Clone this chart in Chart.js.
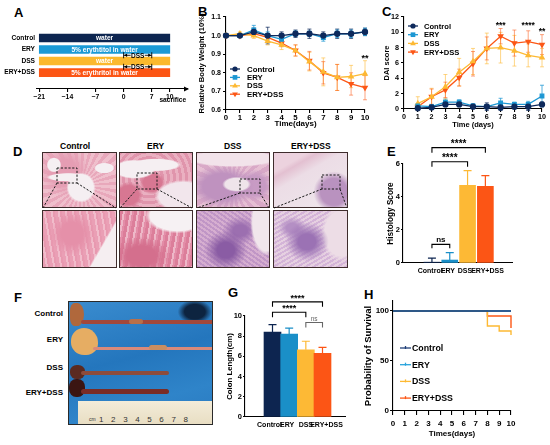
<!DOCTYPE html>
<html>
<head>
<meta charset="utf-8">
<script src="https://cdn.jsdelivr.net/npm/chart.js@4.4.1/dist/chart.umd.min.js"></script>
<style>
  body { margin: 0; background: #fff; font-family: 'Liberation Sans', Arial, sans-serif; }
  #fig { position: relative; width: 550px; height: 445px; overflow: hidden; background: #fff; }
  .box { position: absolute; }
  .letter { position: absolute; font-weight: bold; font-size: 13px; line-height: 1; }
  .txt { position: absolute; font-weight: bold; font-size: 8px; line-height: 1; white-space: nowrap; }
  .img { position: absolute; box-sizing: border-box; border: 1.3px solid #3e2c2c; }
  .photo { position: absolute; overflow: hidden; }
  .seg { position: absolute; }
</style>
</head>
<body>
<div id="fig">
  <div class="letter" style="left:14px;top:6px">A</div>
  <div class="letter" style="left:198px;top:5px">B</div>
  <div class="letter" style="left:382px;top:5px">C</div>
  <div class="letter" style="left:13px;top:145px">D</div>
  <div class="letter" style="left:387px;top:145px">E</div>
  <div class="letter" style="left:14px;top:291px">F</div>
  <div class="letter" style="left:228px;top:286px">G</div>
  <div class="letter" style="left:364px;top:288px">H</div>

  <!-- D: histology -->
  <div class="txt" style="left:60px;top:142px;font-size:8.5px">Control</div>
  <div class="txt" style="left:147px;top:142px;font-size:8.5px">ERY</div>
  <div class="txt" style="left:224px;top:142px;font-size:8.5px">DSS</div>
  <div class="txt" style="left:291px;top:142px;font-size:8.5px">ERY+DSS</div>

  <div class="img" style="left:42px;top:152px;width:75px;height:56px;background:
    radial-gradient(ellipse 20% 28% at 52% 64%, #f5eff2 0 85%, transparent 100%),
    radial-gradient(ellipse 30% 8% at 35% 45%, #f5eff2 0 85%, transparent 100%),
    radial-gradient(ellipse 10% 14% at 15% 22%, #f5eff2 0 85%, transparent 100%),
    radial-gradient(ellipse 14% 10% at 84% 28%, #f5eff2 0 85%, transparent 100%),
    radial-gradient(circle at 30% 35%, #e59db3 0 20%, transparent 40%),
    repeating-conic-gradient(from 0deg at 52% 60%, #e8a8bb 0 6deg, #efbfcc 6deg 12deg), #eab0c1"></div>
  <div class="img" style="left:119px;top:152px;width:74px;height:56px;background:
    radial-gradient(ellipse 30% 18% at 20% 30%, #f5eff2 0 85%, transparent 100%),
    radial-gradient(ellipse 35% 12% at 50% 22%, #f5eff2 0 85%, transparent 100%),
    radial-gradient(ellipse 40% 30% at 88% 80%, #f2e6ec 0 85%, transparent 100%),
    radial-gradient(ellipse 20% 25% at 12% 78%, #d77792 0 70%, transparent 100%),
    radial-gradient(ellipse 18% 22% at 45% 55%, #d77792 0 70%, transparent 100%),
    repeating-radial-gradient(circle at 40% 45%, #e095ac 0 3px, #eab0c1 3px 6px), #e4a0b5"></div>
  <div class="img" style="left:196px;top:152px;width:74px;height:56px;background:
    radial-gradient(ellipse 65% 16% at 50% 10%, #f2e3ea 0 85%, transparent 100%),
    radial-gradient(ellipse 20% 14% at 55% 58%, #efe4ea 0 80%, transparent 100%),
    radial-gradient(ellipse 45% 40% at 35% 62%, #bf92bf 0 60%, transparent 100%),
    radial-gradient(ellipse 25% 30% at 80% 60%, #c89bc4 0 60%, transparent 100%),
    repeating-conic-gradient(from 0deg at 50% 60%, #d9a9c7 0 8deg, #e6bfd3 8deg 15deg), #dcb0cb"></div>
  <div class="img" style="left:273px;top:152px;width:75px;height:56px;background:
    radial-gradient(ellipse 28% 38% at 82% 72%, #b992bf 0 65%, transparent 100%),
    linear-gradient(150deg, #ecd2de 0 20%, #e3c0d1 26%, #ecdde6 40%, #efe7ec 100%)"></div>

  <div class="img" style="left:42px;top:210px;width:75px;height:58px;background:
    linear-gradient(120deg, transparent 0 74%, #f5eef1 76% 100%),
    radial-gradient(ellipse 30% 40% at 40% 40%, #e590a9 0 50%, transparent 100%),
    repeating-linear-gradient(80deg, #ea9fb5 0 3px, #f1bccb 3px 5px, #e899b0 5px 7px), #eaa6ba"></div>
  <div class="img" style="left:119px;top:210px;width:74px;height:58px;background:
    radial-gradient(ellipse 45% 32% at 80% 8%, #f6f1f3 0 85%, transparent 100%),
    radial-gradient(ellipse 40% 35% at 30% 80%, #d46f8d 0 50%, transparent 100%),
    repeating-linear-gradient(100deg, #dc7e9a 0 3px, #eeb8c8 3px 5px, #e38ea8 5px 7px), #e08ea7"></div>
  <div class="img" style="left:196px;top:210px;width:74px;height:58px;background:
    radial-gradient(ellipse 22% 60% at 96% 20%, #f1e6ec 0 85%, transparent 100%),
    radial-gradient(ellipse 30% 35% at 40% 70%, #8a5ca4 0 40%, transparent 100%),
    radial-gradient(ellipse 25% 25% at 60% 35%, #9c6fb0 0 40%, transparent 100%),
    repeating-linear-gradient(35deg, #c096c6 0 2px, #d6aed0 2px 4px),
    #c79bc6"></div>
  <div class="img" style="left:273px;top:210px;width:75px;height:58px;background:
    radial-gradient(ellipse 30% 35% at 45% 55%, #9b72b4 0 40%, transparent 100%),
    radial-gradient(ellipse 20% 20% at 25% 30%, #b48fc4 0 40%, transparent 100%),
    radial-gradient(ellipse 28% 50% at 92% 40%, #eddde6 0 80%, transparent 100%),
    repeating-linear-gradient(-30deg, #d4b4d8 0 2px, #e6d0e1 2px 4px),
    #dcc0da"></div>

  <svg class="box" style="left:0;top:0" width="550" height="445">
    <g fill="none" stroke="#1a1a1a" stroke-width="1" stroke-dasharray="2.2,1.6">
      <rect x="57" y="168" width="20" height="15"/>
      <line x1="57" y1="183" x2="43" y2="208"/><line x1="77" y1="183" x2="116" y2="208"/>
      <rect x="137" y="173" width="20" height="16"/>
      <line x1="137" y1="189" x2="120" y2="208"/><line x1="157" y1="189" x2="192" y2="208"/>
      <rect x="240" y="179" width="20" height="14"/>
      <line x1="240" y1="193" x2="197" y2="208"/><line x1="260" y1="193" x2="269" y2="208"/>
      <rect x="322" y="175" width="18" height="14"/>
      <line x1="322" y1="189" x2="274" y2="208"/><line x1="340" y1="189" x2="347" y2="208"/>
    </g>
  </svg>

  <!-- F: colon photo -->
  <div class="txt" style="right:487px;top:310px">Control</div>
  <div class="txt" style="right:487px;top:336px">ERY</div>
  <div class="txt" style="right:487px;top:364px">DSS</div>
  <div class="txt" style="right:487px;top:389px">ERY+DSS</div>
  <div class="photo" style="left:68px;top:301px;width:145px;height:124px;border:1px solid #2a2a2a;box-sizing:border-box;background:
    radial-gradient(ellipse 12% 10% at 88% 8%, #0d2440 0 60%, transparent 100%),
    linear-gradient(165deg, #3a8ccf 0%, #2476bd 45%, #2f84c9 75%, #2a7ac0 100%)">
    <div class="seg" style="left:1px;top:1px;width:14px;height:23px;border-radius:40% 60% 60% 40%;background:#b0683c"></div>
    <div class="seg" style="left:12px;top:18px;width:134px;height:4px;border-radius:2px;background:#a2483a"></div>
    <div class="seg" style="left:60px;top:17px;width:14px;height:5px;border-radius:3px;background:#b8704a"></div>
    <div class="seg" style="left:2px;top:26px;width:27px;height:27px;border-radius:50% 55% 45% 50%;background:#e6ad63"></div>
    <div class="seg" style="left:24px;top:45px;width:122px;height:3px;border-radius:2px;background:#d98a7a"></div>
    <div class="seg" style="left:80px;top:43px;width:18px;height:5px;border-radius:3px;background:#c98e60"></div>
    <div class="seg" style="left:1px;top:63px;width:15px;height:14px;border-radius:45%;background:#5b2a20"></div>
    <div class="seg" style="left:12px;top:69px;width:88px;height:4px;border-radius:2px;background:#8d4c3c"></div>
    <div class="seg" style="left:0px;top:77px;width:16px;height:18px;border-radius:45%;background:#3b1512"></div>
    <div class="seg" style="left:12px;top:87px;width:88px;height:5px;border-radius:3px;background:#7a2c26"></div>
    <div class="seg" style="left:9px;top:99px;width:140px;height:26px;background:linear-gradient(#f3ecd9,#e7dcc0)"></div>
    <div class="txt" style="left:20px;top:115px;font-weight:normal;font-size:5px;color:#333">cm</div>
    <div class="txt" style="left:30px;top:114px;font-weight:normal;font-size:8px;color:#333;word-spacing:5.4px">1 2 3 4 5 6 7 8</div>
  </div>
</div>

<script>
// ---- data ----
const groups = ['Control', 'ERY', 'DSS', 'ERY+DSS'];
const colors = ['#0e2a5c', '#1c97d3', '#fdb933', '#fc5716'];
const errColors = ['rgba(14,42,92,0.75)', 'rgba(28,151,211,0.75)', 'rgba(253,185,51,0.6)', 'rgba(252,87,22,0.55)'];

// A: treatment schedule (days)
const schedStart = [-21, -21, -21, -21];
const schedEnd = [10, 10, 10, 10];
const schedText = ['water', '5% erythtitol in water', 'water', '5% erythritol in water'];
const schedTicks = [-21, -14, -7, 0, 7, 10];
const dssWindow = [0, 7];

// B: relative body weight
const bwDays = [0, 1, 2, 3, 4, 5, 6, 7, 8, 9, 10];
const bwControl = [1.00, 1.00, 1.02, 1.00, 1.00, 1.01, 1.01, 1.00, 1.01, 1.01, 1.02];
const bwControlSd = [0.005, 0.01, 0.02, 0.045, 0.02, 0.02, 0.025, 0.02, 0.025, 0.025, 0.02];
const bwEry = [1.00, 1.00, 1.03, 1.00, 0.98, 1.01, 1.01, 0.99, 1.01, 1.01, 1.02];
const bwErySd = [0.005, 0.01, 0.025, 0.02, 0.02, 0.015, 0.015, 0.02, 0.02, 0.02, 0.02];
const bwDss = [1.00, 1.01, 1.00, 0.97, 0.95, 0.92, 0.86, 0.805, 0.775, 0.78, 0.795];
const bwDssSd = [0.005, 0.01, 0.015, 0.02, 0.025, 0.03, 0.05, 0.075, 0.07, 0.06, 0.07];
const bwEryDss = [1.00, 1.00, 1.01, 0.99, 0.96, 0.92, 0.865, 0.80, 0.775, 0.74, 0.72];
const bwEryDssSd = [0.005, 0.01, 0.015, 0.02, 0.02, 0.03, 0.05, 0.06, 0.07, 0.06, 0.065];

// C: DAI score
const daiDays = [1, 2, 3, 4, 5, 6, 7, 8, 9, 10];
const daiControl = [0.1, 0.2, 0.6, 0.6, 0.3, 0.3, 0.2, 0.3, 0.3, 0.6];
const daiControlSd = [0.1, 0.2, 0.3, 0.3, 0.2, 0.5, 0.4, 0.3, 0.5, 0.3];
const daiEry = [0.4, 0.3, 0.9, 0.9, 0.4, 0.3, 0.8, 0.6, 0.6, 1.7];
const daiErySd = [0.2, 0.3, 0.4, 0.3, 0.3, 0.2, 0.6, 0.3, 0.4, 1.4];
const daiDss = [0.7, 1.6, 2.9, 4.8, 6.2, 7.9, 8.0, 7.6, 7.0, 6.7];
const daiDssSd = [0.9, 1.1, 1.6, 1.8, 1.7, 2.0, 2.0, 2.0, 1.5, 1.2];
const daiEryDss = [0.3, 1.6, 2.5, 4.1, 5.9, 7.9, 9.5, 8.6, 8.8, 8.4];
const daiEryDssSd = [0.4, 1.0, 1.0, 1.1, 1.6, 1.5, 1.0, 1.7, 1.4, 1.3];

// E: histology score, G: colon length
const histScore = [0.05, 0.18, 4.7, 4.65];
const histSd = [0.25, 0.45, 0.9, 0.65];
const colonLen = [8.4, 8.2, 6.65, 6.3];
const colonSd = [0.75, 0.6, 0.85, 0.6];

// H: survival (%)
const survDays = [0, 1, 2, 3, 4, 5, 6, 7, 8, 9, 10];
const survControl = [100, 100, 100, 100, 100, 100, 100, 100, 100, 100, 100];
const survEry = [100, 100, 100, 100, 100, 100, 100, 100, 100, 100, 100];
const survDss = [100, 100, 100, 100, 100, 100, 100, 100, 85, 80, 76];
const survEryDss = [100, 100, 100, 100, 100, 100, 100, 100, 95, 95, 83];

// ---- setup ----
Chart.defaults.font.family = "'Liberation Sans', Arial, sans-serif";
Chart.defaults.font.weight = 'bold';
Chart.defaults.font.size = 7.5;
Chart.defaults.color = '#000';
Chart.defaults.animation = false;
Chart.defaults.plugins.legend.display = false;
Chart.defaults.plugins.tooltip.enabled = false;

// schematic time axis: the last 3 days are drawn 1.5x wider
class ScheduleScale extends Chart.LinearScale {
  getPixelForValue(value) {
    const w = v => v <= 7 ? v : 7 + (v - 7) * 1.5;
    const a = w(this.min), b = w(this.max);
    return this.getPixelForDecimal((w(value) - a) / (b - a));
  }
}
ScheduleScale.id = 'schedule';
ScheduleScale.defaults = Chart.LinearScale.defaults;
Chart.register(ScheduleScale);

function mount(box) {
  const d = document.createElement('div');
  d.className = 'box';
  d.style.cssText = `left:${box.x}px;top:${box.y}px;width:${box.w}px;height:${box.h}px`;
  const c = document.createElement('canvas');
  d.appendChild(c);
  document.getElementById('fig').appendChild(d);
  return c;
}

// fixes the plot rectangle at page coordinates
function fit(box, area) {
  return {
    padding: { left: 0, top: area.t - box.y, right: box.x + box.w - area.r, bottom: 0 },
    yW: area.l - box.x,
    xH: box.y + box.h - area.b
  };
}

function axis(size, o) {
  return Object.assign({
    afterFit: s => { if (s.isHorizontal()) s.height = size; else s.width = size; },
    grid: { drawOnChartArea: false, color: '#000', lineWidth: 1.1, tickLength: 3 },
    border: { color: '#000', width: 1.1 }
  }, o);
}

function title(text, size) {
  return { display: true, text: text, font: { size: size || 8, weight: 'bold' }, padding: { top: 2, bottom: 2 } };
}

function marker(ctx, style, x, y, r, color, rot) {
  ctx.fillStyle = color;
  ctx.beginPath();
  if (style === 'circle') ctx.arc(x, y, r, 0, Math.PI * 2);
  else if (style === 'rect') ctx.rect(x - r * 0.9, y - r * 0.9, r * 1.8, r * 1.8);
  else {
    const s = rot ? -1 : 1;
    ctx.moveTo(x, y - s * r * 1.2);
    ctx.lineTo(x + r * 1.1, y + s * r * 0.7);
    ctx.lineTo(x - r * 1.1, y + s * r * 0.7);
    ctx.closePath();
  }
  ctx.fill();
}

// error bars from dataset.errors
const errorBars = {
  id: 'errorBars',
  beforeDatasetsDraw(chart, args, opt) {
    const ctx = chart.ctx;
    chart.data.datasets.forEach((ds, di) => {
      if (!ds.errors) return;
      const meta = chart.getDatasetMeta(di);
      const ys = chart.scales[meta.yAxisID];
      ctx.save();
      ctx.lineWidth = opt.width || 1;
      meta.data.forEach((el, i) => {
        const raw = ds.data[i];
        const v = typeof raw === 'object' ? raw.y : raw;
        const e = ds.errors[i];
        const col = Array.isArray(ds.errorColor) ? ds.errorColor[i] : ds.errorColor;
        ctx.strokeStyle = col;
        const top = ys.getPixelForValue(v + e);
        const bot = opt.upperOnly ? el.y : ys.getPixelForValue(v - e);
        const cw = opt.cap || 2;
        ctx.beginPath();
        ctx.moveTo(el.x, bot); ctx.lineTo(el.x, top);
        ctx.moveTo(el.x - cw, top); ctx.lineTo(el.x + cw, top);
        if (!opt.upperOnly) { ctx.moveTo(el.x - cw, bot); ctx.lineTo(el.x + cw, bot); }
        ctx.stroke();
      });
      ctx.restore();
    });
  }
};

// legend placed inside the plot
const innerLegend = {
  id: 'innerLegend',
  afterDraw(chart, args, opt) {
    if (!opt.dx) return;
    const { ctx, chartArea } = chart;
    ctx.save();
    ctx.font = `bold ${opt.size}px 'Liberation Sans', Arial, sans-serif`;
    ctx.textBaseline = 'middle';
    chart.data.datasets.forEach((ds, i) => {
      const x = chartArea.left + opt.dx, y = chartArea.top + opt.dy + i * opt.row;
      ctx.strokeStyle = ds.borderColor;
      ctx.lineWidth = 1.3;
      ctx.beginPath(); ctx.moveTo(x - opt.half, y); ctx.lineTo(x + opt.half, y); ctx.stroke();
      if (opt.tick) {
        ctx.beginPath(); ctx.moveTo(x, y - 2); ctx.lineTo(x, y + 1); ctx.stroke();
      } else {
        marker(ctx, ds.pointStyle, x, y, 2.6, ds.borderColor, ds.pointRotation);
      }
      ctx.fillStyle = '#000';
      ctx.fillText(ds.label, chartArea.left + opt.tx, y + 0.5);
    });
    ctx.restore();
  }
};

// significance marks at data coordinates
const marks = {
  id: 'marks',
  afterDatasetsDraw(chart, args, opt) {
    if (!opt.items) return;
    const { ctx, scales: { x, y } } = chart;
    ctx.save();
    ctx.font = opt.font;
    ctx.fillStyle = '#000';
    ctx.textAlign = 'center';
    ctx.textBaseline = 'alphabetic';
    opt.items.forEach(m => ctx.fillText(m.text, x.getPixelForValue(m.x), y.getPixelForValue(m.y)));
    ctx.restore();
  }
};

// comparison brackets
const brackets = {
  id: 'brackets',
  afterDraw(chart, args, opt) {
    if (!opt.items) return;
    const { ctx, scales: { x, y } } = chart;
    opt.items.forEach(b => {
      const x0 = x.getPixelForValue(b.from), x1 = x.getPixelForValue(b.to);
      const yy = y.getPixelForValue(b.at);
      ctx.save();
      ctx.strokeStyle = b.color || '#000';
      ctx.lineWidth = 1.1;
      ctx.beginPath();
      ctx.moveTo(x0, yy + b.leg); ctx.lineTo(x0, yy); ctx.lineTo(x1, yy); ctx.lineTo(x1, yy + b.leg);
      ctx.stroke();
      ctx.fillStyle = b.color || '#000';
      ctx.font = b.font;
      ctx.textAlign = 'center';
      ctx.textBaseline = 'alphabetic';
      ctx.fillText(b.text, (x0 + x1) / 2, yy - (b.gap || 1));
      ctx.restore();
    });
  }
};

// schedule extras: bar text, DSS window arrows, axis arrow
const schedule = {
  id: 'schedule',
  afterDatasetsDraw(chart) {
    const { ctx, scales: { x, y } } = chart;
    const meta = chart.getDatasetMeta(0);
    ctx.save();
    ctx.font = "bold 6.6px 'Liberation Sans', Arial, sans-serif";
    ctx.fillStyle = '#fff';
    ctx.textAlign = 'center';
    ctx.textBaseline = 'middle';
    meta.data.forEach((el, i) => ctx.fillText(schedText[i], (el.x + el.base) / 2, el.y + 0.5));

    // DSS windows between bars 1/2 and 2/3
    const x0 = x.getPixelForValue(dssWindow[0]), x1 = x.getPixelForValue(dssWindow[1]);
    [1.5, 2.5].forEach(v => {
      const yy = y.getPixelForValue(v);
      ctx.strokeStyle = '#000';
      ctx.fillStyle = '#000';
      ctx.lineWidth = 0.9;
      ctx.beginPath();
      ctx.moveTo(x0, yy - 3); ctx.lineTo(x0, yy + 3);
      ctx.moveTo(x1, yy - 3); ctx.lineTo(x1, yy + 3);
      ctx.moveTo(x0, yy); ctx.lineTo(x0 + 7, yy);
      ctx.moveTo(x1 - 7, yy); ctx.lineTo(x1, yy);
      ctx.stroke();
      ctx.beginPath();
      ctx.moveTo(x0 + 0.5, yy); ctx.lineTo(x0 + 3.5, yy - 1.8); ctx.lineTo(x0 + 3.5, yy + 1.8); ctx.closePath();
      ctx.moveTo(x1 - 0.5, yy); ctx.lineTo(x1 - 3.5, yy - 1.8); ctx.lineTo(x1 - 3.5, yy + 1.8); ctx.closePath();
      ctx.fill();
      ctx.font = "bold 6.5px 'Liberation Sans', Arial, sans-serif";
      ctx.fillText('DSS', (x0 + x1) / 2, yy + 0.5);
    });

    // axis arrow head + "sacrifice"
    const ax = chart.chartArea.right, ay = chart.chartArea.bottom;
    ctx.beginPath();
    ctx.moveTo(ax + 1, ay); ctx.lineTo(ax - 4, ay - 2.5); ctx.lineTo(ax - 4, ay + 2.5); ctx.closePath();
    ctx.fill();
    ctx.font = "bold 6.6px 'Liberation Sans', Arial, sans-serif";
    ctx.fillText('sacrifice', x.getPixelForValue(10) + 3, ay + 11.5);
    ctx.restore();
  }
};

// ---- A ----
(function () {
  const box = { x: 0, y: 18, w: 192, h: 92 };
  const L = fit(box, { l: 37, r: 188, t: 23, b: 89 });
  new Chart(mount(box), {
    type: 'bar',
    data: {
      datasets: [{
        data: groups.map((g, i) => ({ y: i, x: [schedStart[i], schedEnd[i]] })),
        backgroundColor: ['#0d2550', '#1a9ad6', '#fbb92d', '#fc5514'],
        barThickness: 8
      }]
    },
    options: {
      indexAxis: 'y',
      responsive: true, maintainAspectRatio: false,
      layout: { padding: L.padding },
      scales: {
        x: axis(L.xH, {
          type: 'schedule', min: -21.57, max: 13.02,
          afterBuildTicks: s => { s.ticks = schedTicks.map(v => ({ value: v })); },
          ticks: { font: { size: 6.8 }, padding: 1, autoSkip: false, maxRotation: 0, callback: v => v < 0 ? '\u2212' + Math.abs(v) : String(v) }
        }),
        y: {
          type: 'linear', reverse: true, min: -0.51, max: 3.72,
          afterFit: s => { s.width = L.yW; },
          afterBuildTicks: s => { s.ticks = groups.map((g, i) => ({ value: i })); },
          grid: { display: false, drawTicks: false }, border: { display: false },
          ticks: { font: { size: 6.6 }, padding: 2, autoSkip: false, callback: v => groups[v] }
        }
      }
    },
    plugins: [schedule]
  });
})();

// ---- B ----
(function () {
  const box = { x: 195, y: 5, w: 180, h: 126 };
  const L = fit(box, { l: 226, r: 365, t: 17, b: 110 });
  const series = [bwControl, bwEry, bwDss, bwEryDss];
  const sds = [bwControlSd, bwErySd, bwDssSd, bwEryDssSd];
  const styles = [['circle', 0], ['rect', 0], ['triangle', 0], ['triangle', 180]];
  new Chart(mount(box), {
    type: 'line',
    data: {
      datasets: series.map((s, k) => ({
        label: groups[k],
        data: bwDays.map((d, i) => ({ x: d, y: s[i] })),
        errors: sds[k], errorColor: errColors[k],
        borderColor: colors[k], backgroundColor: colors[k],
        pointStyle: styles[k][0], pointRotation: styles[k][1],
        pointRadius: 2.5, borderWidth: 1.3, clip: false
      }))
    },
    options: {
      responsive: true, maintainAspectRatio: false,
      layout: { padding: L.padding },
      scales: {
        x: axis(L.xH, { type: 'linear', min: 0, max: 10, ticks: { stepSize: 1, padding: 0, autoSkip: false, maxRotation: 0, font: { size: 7.8 } }, title: title('Time(days)', 8) }),
        y: axis(L.yW, { min: 0.6, max: 1.1, ticks: { stepSize: 0.1, padding: 2, font: { size: 7 }, callback: v => v.toFixed(1) }, title: title('Relative Body Weight (10%)', 7.6) })
      },
      plugins: {
        errorBars: { width: 1, cap: 2 },
        innerLegend: { dx: 9, dy: 52, row: 8.4, half: 5, tx: 21, size: 7.8 },
        marks: { font: "bold 9px 'Liberation Sans', Arial, sans-serif", items: [{ x: 10, y: 0.865, text: '**' }] }
      }
    },
    plugins: [errorBars, innerLegend, marks]
  });
})();

// ---- C ----
(function () {
  const box = { x: 380, y: 5, w: 170, h: 126 };
  const L = fit(box, { l: 404, r: 542, t: 17, b: 109 });
  const series = [daiControl, daiEry, daiDss, daiEryDss];
  const sds = [daiControlSd, daiErySd, daiDssSd, daiEryDssSd];
  const styles = [['circle', 0], ['rect', 0], ['triangle', 0], ['triangle', 180]];
  new Chart(mount(box), {
    type: 'line',
    data: {
      datasets: series.map((s, k) => ({
        label: groups[k],
        data: daiDays.map((d, i) => ({ x: d, y: s[i] })),
        errors: sds[k], errorColor: errColors[k],
        borderColor: colors[k], backgroundColor: colors[k],
        pointStyle: styles[k][0], pointRotation: styles[k][1],
        pointRadius: 2.5, borderWidth: 1.3, clip: false
      }))
    },
    options: {
      responsive: true, maintainAspectRatio: false,
      layout: { padding: L.padding },
      scales: {
        x: axis(L.xH, { type: 'linear', min: 0, max: 10, ticks: { stepSize: 1, padding: 1, autoSkip: false, maxRotation: 0, font: { size: 7.2 } }, title: title('Time (days)', 7.5) }),
        y: axis(L.yW, { min: 0, max: 12, ticks: { stepSize: 2, padding: 2, font: { size: 7.2 } }, title: title('DAI score', 7.5) })
      },
      plugins: {
        errorBars: { width: 1, cap: 2 },
        innerLegend: { dx: 9, dy: 9, row: 8.7, half: 5, tx: 20, size: 7.6 },
        marks: {
          font: "bold 8.5px 'Liberation Sans', Arial, sans-serif",
          items: [{ x: 7, y: 10.6, text: '***' }, { x: 9, y: 10.6, text: '****' }, { x: 10, y: 9.8, text: '**' }]
        }
      }
    },
    plugins: [errorBars, innerLegend, marks]
  });
})();

// ---- bar panels E & G ----
// category labels sit slightly off the bar centres, as in the source figure
const labelNudgeE = [-0.1, -0.1, -0.15, 0.12];
const labelNudgeG = [-0.18, -0.12, 0, 0.24];

function barPanel(box, area, values, sds, yOpt, xMin, xMax, thick, yTitle, titleSize, nudge, bracketItems) {
  const L = fit(box, area);
  new Chart(mount(box), {
    type: 'bar',
    data: {
      datasets: [{
        data: groups.map((g, i) => ({ x: i, y: values[i] })),
        errors: sds, errorColor: ['#0d2550', '#1a8fc8', '#fdb935', '#fc5515'],
        backgroundColor: ['#0d2550', '#1a8fc8', '#fdb935', '#fc5515'],
        barThickness: thick
      }]
    },
    options: {
      responsive: true, maintainAspectRatio: false,
      layout: { padding: L.padding },
      scales: {
        x: axis(L.xH, {
          type: 'linear', min: xMin, max: xMax,
          grid: { drawOnChartArea: false, drawTicks: false },
          afterBuildTicks: s => { s.ticks = groups.map((g, i) => ({ value: i + nudge[i] })); },
          ticks: { padding: 4, font: { size: 7 }, autoSkip: false, maxRotation: 0, callback: v => groups[Math.round(v)] }
        }),
        y: axis(L.yW, Object.assign({ title: title(yTitle, titleSize) }, yOpt))
      },
      plugins: {
        errorBars: { width: 1.2, cap: 4, upperOnly: true },
        brackets: { items: bracketItems }
      }
    },
    plugins: [errorBars, brackets]
  });
}

const star10 = "bold 10px 'Liberation Sans', Arial, sans-serif";
barPanel({ x: 384, y: 135, w: 166, h: 145 }, { l: 403, r: 512, t: 164, b: 263 },
  histScore, histSd,
  { min: 0, max: 6, ticks: { stepSize: 2, padding: 1, font: { size: 7.5 } }, grid: { drawOnChartArea: false, color: '#000', lineWidth: 1.1, tickLength: 2 } },
  -0.86, 3.73, 16, 'Histology Score', 8.2, labelNudgeE,
  [
    { from: 0, to: 3, at: 6.99, leg: 5, text: '****', font: star10, gap: 1 },
    { from: 0, to: 2, at: 6.14, leg: 5, text: '****', font: star10, gap: 1 },
    { from: 0, to: 1, at: 1.13, leg: 4, text: 'ns', font: "bold 8px 'Liberation Sans', Arial, sans-serif", gap: 2 }
  ]);

barPanel({ x: 223, y: 285, w: 127, h: 160 }, { l: 245, r: 345, t: 316, b: 417 },
  colonLen, colonSd,
  { min: 0, max: 10, ticks: { stepSize: 2, padding: 1, font: { size: 7.5 } }, grid: { drawOnChartArea: false, color: '#000', lineWidth: 1.1, tickLength: 2 } },
  -0.9, 3.6, 17, 'Colon Length(cm)', 7.8, labelNudgeG,
  [
    { from: 0, to: 3, at: 11.4, leg: 5, text: '****', font: "bold 9px 'Liberation Sans', Arial, sans-serif", gap: 1 },
    { from: 0, to: 2, at: 10.37, leg: 5, text: '****', font: "bold 9px 'Liberation Sans', Arial, sans-serif", gap: 1 },
    { from: 2, to: 3, at: 9.35, leg: 5, text: 'ns', font: "6.5px 'Liberation Sans', Arial, sans-serif", color: '#666', gap: 1.5 }
  ]);

// ---- H ----
(function () {
  const box = { x: 361, y: 285, w: 189, h: 156 };
  const L = fit(box, { l: 393, r: 511, t: 301, b: 411 });
  const series = [survControl, survEry, survDss, survEryDss];
  const lineCols = ['#1f3f78', '#27a3dc', '#fdb933', '#fc5716'];
  new Chart(mount(box), {
    type: 'line',
    data: {
      datasets: series.map((s, k) => ({
        label: groups[k],
        data: survDays.map((d, i) => ({ x: d, y: s[i] })),
        borderColor: lineCols[k], backgroundColor: lineCols[k],
        stepped: 'before', pointRadius: 0, borderWidth: 1.4, clip: false
      }))
    },
    options: {
      responsive: true, maintainAspectRatio: false,
      layout: { padding: L.padding },
      scales: {
        x: axis(L.xH, { type: 'linear', min: 0, max: 10, ticks: { stepSize: 1, padding: 4, autoSkip: false, maxRotation: 0, font: { size: 8 } }, grid: { drawOnChartArea: false, color: '#000', lineWidth: 1.1, tickLength: 4 }, title: title('Times(days)', 8) }),
        y: axis(L.yW, {
          min: 0, max: 110,
          afterBuildTicks: s => { s.ticks = [0, 50, 100].map(v => ({ value: v })); },
          ticks: { padding: 1, font: { size: 8 } },
          title: title('Probability of Survival', 9.5)
        })
      },
      plugins: {
        innerLegend: { dx: 12.5, dy: 47, row: 16.7, half: 5.5, tx: 19, size: 8.8, tick: true }
      }
    },
    plugins: [innerLegend]
  });
})();
</script>
</body>
</html>
